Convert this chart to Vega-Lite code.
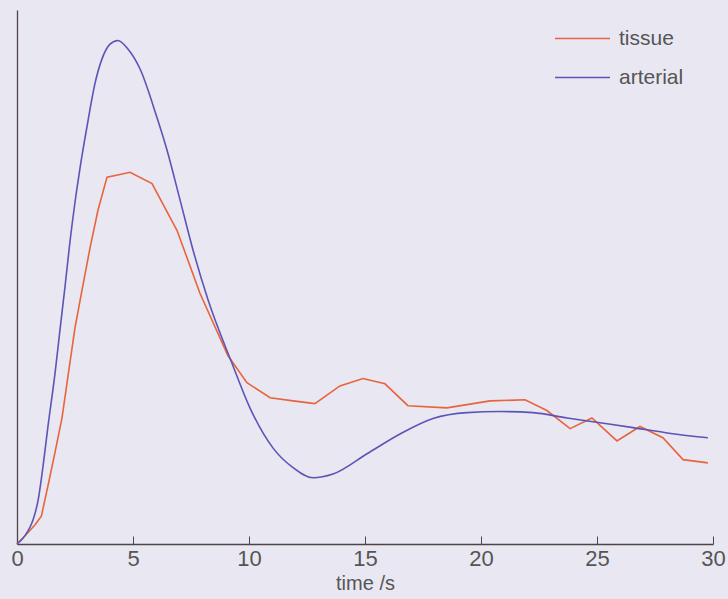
{
  "$schema": "https://vega.github.io/schema/vega-lite/v6.json",
  "width": 696,
  "height": 534,
  "autosize": {"type": "none"},
  "padding": {"left": 17, "top": 10, "right": 15, "bottom": 55},
  "background": "#e9e7f1",
  "config": {
    "view": {"stroke": null},
    "font": "Liberation Sans"
  },
  "data": {
    "values": [
      {"series": "tissue", "t": 0.0, "v": 0.0},
      {"series": "tissue", "t": 0.13, "v": 0.006},
      {"series": "tissue", "t": 0.34, "v": 0.015},
      {"series": "tissue", "t": 0.78, "v": 0.036},
      {"series": "tissue", "t": 1.05, "v": 0.052},
      {"series": "tissue", "t": 1.34, "v": 0.11},
      {"series": "tissue", "t": 1.64, "v": 0.172},
      {"series": "tissue", "t": 1.94, "v": 0.236},
      {"series": "tissue", "t": 2.2, "v": 0.315},
      {"series": "tissue", "t": 2.5, "v": 0.405},
      {"series": "tissue", "t": 2.8, "v": 0.475},
      {"series": "tissue", "t": 3.15, "v": 0.555},
      {"series": "tissue", "t": 3.49, "v": 0.625},
      {"series": "tissue", "t": 3.88, "v": 0.687},
      {"series": "tissue", "t": 4.44, "v": 0.692},
      {"series": "tissue", "t": 4.87, "v": 0.696},
      {"series": "tissue", "t": 5.82, "v": 0.675},
      {"series": "tissue", "t": 6.9, "v": 0.587},
      {"series": "tissue", "t": 7.89, "v": 0.469},
      {"series": "tissue", "t": 9.09, "v": 0.353},
      {"series": "tissue", "t": 9.91, "v": 0.302},
      {"series": "tissue", "t": 10.91, "v": 0.274},
      {"series": "tissue", "t": 11.9, "v": 0.268},
      {"series": "tissue", "t": 12.84, "v": 0.263},
      {"series": "tissue", "t": 13.92, "v": 0.296},
      {"series": "tissue", "t": 14.91, "v": 0.31},
      {"series": "tissue", "t": 15.86, "v": 0.3},
      {"series": "tissue", "t": 16.85, "v": 0.259},
      {"series": "tissue", "t": 18.53, "v": 0.255},
      {"series": "tissue", "t": 20.39, "v": 0.268},
      {"series": "tissue", "t": 21.9, "v": 0.27},
      {"series": "tissue", "t": 22.84, "v": 0.25},
      {"series": "tissue", "t": 23.84, "v": 0.216},
      {"series": "tissue", "t": 24.78, "v": 0.236},
      {"series": "tissue", "t": 25.86, "v": 0.193},
      {"series": "tissue", "t": 26.85, "v": 0.22},
      {"series": "tissue", "t": 27.84, "v": 0.199},
      {"series": "tissue", "t": 28.71, "v": 0.158},
      {"series": "tissue", "t": 29.78, "v": 0.152},
      {"series": "arterial", "t": 0.0, "v": 0.0},
      {"series": "arterial", "t": 0.22, "v": 0.009},
      {"series": "arterial", "t": 0.47, "v": 0.024},
      {"series": "arterial", "t": 0.69, "v": 0.045},
      {"series": "arterial", "t": 0.91, "v": 0.082},
      {"series": "arterial", "t": 1.12, "v": 0.145},
      {"series": "arterial", "t": 1.34, "v": 0.222},
      {"series": "arterial", "t": 1.64, "v": 0.32},
      {"series": "arterial", "t": 1.85, "v": 0.4},
      {"series": "arterial", "t": 2.07, "v": 0.482},
      {"series": "arterial", "t": 2.28, "v": 0.565},
      {"series": "arterial", "t": 2.5, "v": 0.64},
      {"series": "arterial", "t": 2.72, "v": 0.705},
      {"series": "arterial", "t": 2.93, "v": 0.76},
      {"series": "arterial", "t": 3.15, "v": 0.815},
      {"series": "arterial", "t": 3.36, "v": 0.862},
      {"series": "arterial", "t": 3.66, "v": 0.908},
      {"series": "arterial", "t": 4.01, "v": 0.936},
      {"series": "arterial", "t": 4.35, "v": 0.943},
      {"series": "arterial", "t": 4.78, "v": 0.927},
      {"series": "arterial", "t": 5.3, "v": 0.89},
      {"series": "arterial", "t": 6.03, "v": 0.799},
      {"series": "arterial", "t": 6.47, "v": 0.737},
      {"series": "arterial", "t": 7.03, "v": 0.644},
      {"series": "arterial", "t": 7.59, "v": 0.55},
      {"series": "arterial", "t": 8.23, "v": 0.458},
      {"series": "arterial", "t": 9.27, "v": 0.338},
      {"series": "arterial", "t": 10.04, "v": 0.255},
      {"series": "arterial", "t": 11.03, "v": 0.18},
      {"series": "arterial", "t": 11.9, "v": 0.143},
      {"series": "arterial", "t": 12.76, "v": 0.124},
      {"series": "arterial", "t": 13.62, "v": 0.131},
      {"series": "arterial", "t": 15.09, "v": 0.169},
      {"series": "arterial", "t": 16.51, "v": 0.206},
      {"series": "arterial", "t": 17.93, "v": 0.235},
      {"series": "arterial", "t": 19.4, "v": 0.246},
      {"series": "arterial", "t": 20.82, "v": 0.248},
      {"series": "arterial", "t": 22.24, "v": 0.246},
      {"series": "arterial", "t": 23.71, "v": 0.236},
      {"series": "arterial", "t": 25.13, "v": 0.227},
      {"series": "arterial", "t": 26.55, "v": 0.218},
      {"series": "arterial", "t": 28.02, "v": 0.208},
      {"series": "arterial", "t": 29.78, "v": 0.199}
    ]
  },
  "encoding": {
    "x": {
      "field": "t",
      "type": "quantitative",
      "scale": {"domain": [0, 30], "nice": false, "zero": false},
      "axis": {
        "title": "time /s",
        "titleFont": "Liberation Sans",
        "titleFontSize": 20,
        "titleFontWeight": "normal",
        "titleColor": "#555555",
        "titlePadding": 4,
        "values": [0, 5, 10, 15, 20, 25, 30],
        "labelFontSize": 22,
        "labelColor": "#555555",
        "labelPadding": 12,
        "labelOverlap": false,
        "labelFlush": false,
        "tickSize": -8,
        "tickColor": "#4f4448",
        "domainColor": "#4f4448",
        "domainWidth": 1.3,
        "grid": false
      }
    },
    "y": {
      "field": "v",
      "type": "quantitative",
      "scale": {"domain": [0, 1], "nice": false},
      "axis": {
        "title": null,
        "labels": false,
        "ticks": false,
        "grid": false,
        "domainColor": "#4f4448",
        "domainWidth": 1.3
      }
    },
    "color": {
      "field": "series",
      "type": "nominal",
      "sort": ["tissue", "arterial"],
      "scale": {"domain": ["tissue", "arterial"], "range": ["#e8643c", "#5b55b6"]},
      "legend": {
        "title": null,
        "orient": "none",
        "legendX": 537,
        "legendY": 0,
        "symbolType": "stroke",
        "symbolSize": 3025,
        "symbolStrokeWidth": 1.6,
        "labelFontSize": 21,
        "labelColor": "#555555",
        "labelOffset": 8,
        "rowPadding": -32
      }
    }
  },
  "layer": [
    {
      "transform": [{"filter": "datum.series === 'tissue'"}],
      "mark": {"type": "line", "strokeWidth": 1.6}
    },
    {
      "transform": [{"filter": "datum.series === 'arterial'"}],
      "mark": {"type": "line", "strokeWidth": 1.6, "interpolate": "monotone"}
    }
  ]
}
